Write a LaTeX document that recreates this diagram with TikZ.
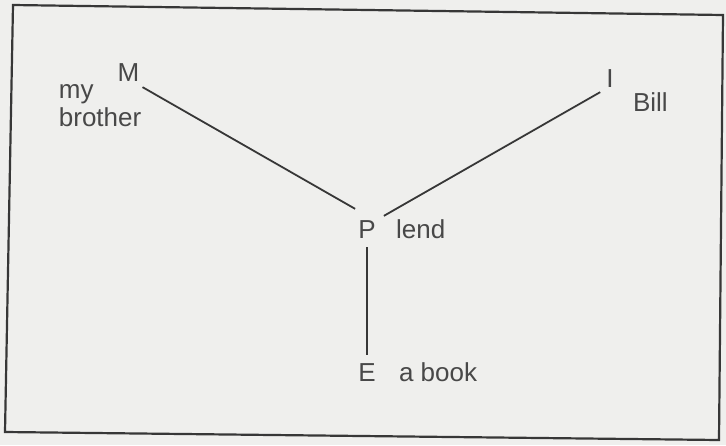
\documentclass[tikz,border=0pt]{standalone}
\usepackage{fontspec}
\setmainfont{Liberation Sans}
\usetikzlibrary{positioning}
\definecolor{paper}{RGB}{239,239,237}
\definecolor{ink}{RGB}{72,72,72}
\definecolor{rule}{RGB}{55,55,55}

\begin{document}
\begin{tikzpicture}[x=1pt,y=-1pt,
every node/.style={text=ink,font=\fontsize{26}{28}\selectfont,inner sep=2pt},
link/.style={draw=rule,line width=1.8pt},
box/.style={draw=rule,line width=2.2pt}]
\useasboundingbox (0,0) rectangle (726,445);
\fill[paper] (0,0) rectangle (726,445);
\draw[box] (13,5) -- (723,15) -- (719,440) -- (5,432) -- cycle;
\node (M) at (128.5,73) {M};
\node (I) at (610,79) {I};
\node (P) at (367,230) {P};
\node (E) at (367,373) {E};
\node[below left=-2pt and -28pt of M,align=left] (brother) {my\\brother};
\node[below right=0pt and 15pt of I] (bill) {Bill};
\node[base right=16pt of P] (lend) {lend};
\node[base right=19pt of E] (book) {a book};
\draw[link] ([shift={(1,3)}]M.south east) -- ([shift={(-1,-10)}]P.north west);
\draw[link] ([shift={(-4,2)}]I.south west) -- ([shift={(6,-3)}]P.north east);
\draw[link,shorten <=6pt,shorten >=7pt] (P) -- (E);
\end{tikzpicture}
\end{document}
